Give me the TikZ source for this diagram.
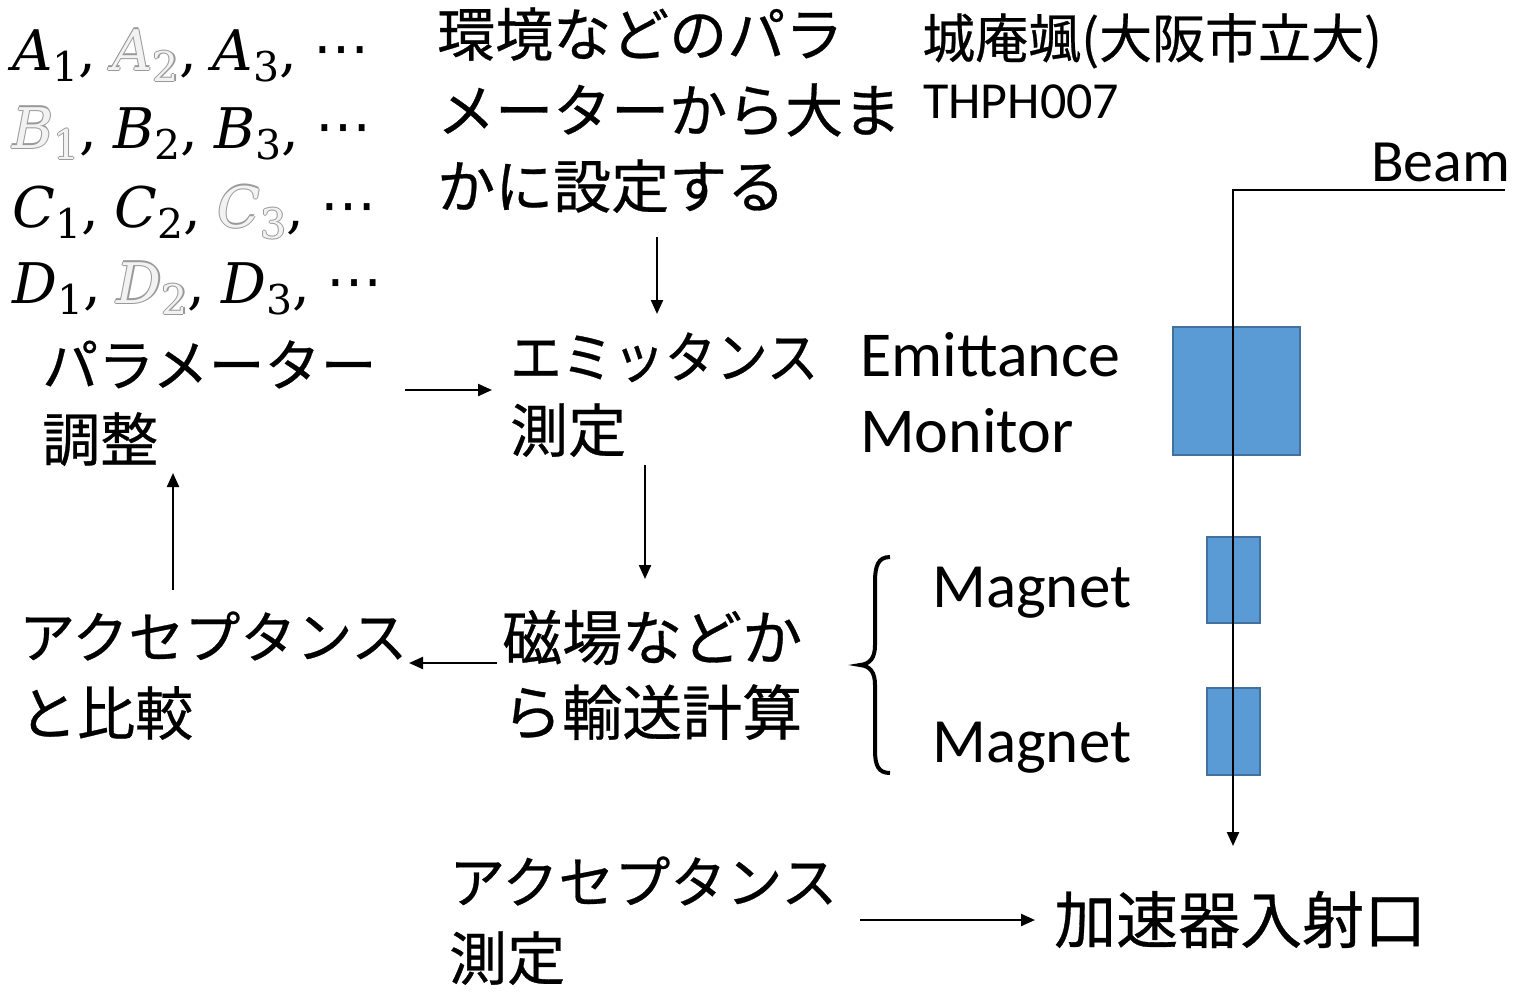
\documentclass[tikz,border=0pt]{standalone}
\usepackage{fontspec}
\usepackage{graphicx}
\setmainfont{Carlito}
\newfontfamily\jpf{Noto Sans CJK JP}[FakeBold=0.5]
\newfontfamily\mfnt{DejaVu Serif}
\newfontfamily\djf{DejaVu Sans}
\usetikzlibrary{arrows.meta}
\newcommand\fsz[1]{\fontsize{#1}{#1}\selectfont}
\newcommand\mv[2]{{\itshape #1}\raisebox{-0.2em}{\fsz{41}#2}}
\newcommand\ghx[2]{\mv{#1}{#2}}
\newcommand\gh[2]{%
 \rlap{\color{black!40}\hspace{-1.2pt}\ghx{#1}{#2}}%
 \rlap{\color{black!40}\hspace{1.2pt}\ghx{#1}{#2}}%
 \rlap{\color{black!40}\raisebox{1.2pt}{\ghx{#1}{#2}}}%
 \rlap{\color{black!40}\raisebox{-1.2pt}{\ghx{#1}{#2}}}%
 {\color{black!5}\ghx{#1}{#2}}}
\newcommand\sep{,\hspace{16pt}}
\newcommand\dts{{\djf\fsz{56}\raisebox{0.05em}{⋯}}}
\definecolor{boxfill}{HTML}{5B9BD5}
\definecolor{boxline}{HTML}{41719C}
\tikzset{
  txt/.style={inner sep=0pt, anchor=base west},
  jp/.style={txt, font=\jpf},
  lat/.style={txt},
  mrow/.style={txt, font=\mfnt\fsz{56}},
  arr/.style={line width=2.2pt, -{Triangle[length=14pt,width=12pt]}},
  blk/.style={draw=boxline, fill=boxfill, line width=2.5pt, inner sep=0pt},
}
\begin{document}
\begin{tikzpicture}[x=1pt,y=-1pt]
\useasboundingbox (0,0) rectangle (1533,991);
% parameter rows
\node[mrow] (ra) at (12,70) {\mv{A}{1}\sep\gh{A}{2}\sep\mv{A}{3}\sep\dts};
\node[mrow] (rb) at (12,148) {\gh{B}{1}\sep\mv{B}{2}\sep\mv{B}{3}\sep\dts};
\node[mrow] (rc) at (12,227) {\mv{C}{1}\sep\mv{C}{2}\sep\gh{C}{3}\sep\dts};
\node[mrow] (rd) at (12,303) {\mv{D}{1}\sep\gh{D}{2}\sep\mv{D}{3}\sep\dts};
% environment text
\node[jp, font=\jpf\fsz{58}] (env1) at (437,56) {環境などのパラ};
\node[jp, font=\jpf\fsz{58}] (env2) at (437,132) {メーターから大ま};
\node[jp, font=\jpf\fsz{58}] (env3) at (437,208) {かに設定する};
% author
\node[jp, font=\jpf\fsz{53}] (auth) at (922,58) {城庵颯(大阪市立大)};
\node[lat, font=\fsz{52}] (pid) at (923,118) {THPH007};
\node[lat, font=\fsz{60}] (beam) at (1371,181) {Beam};
% flow texts
\node[jp, font=\jpf\fsz{56}] (par1) at (42,386) {パラメーター};
\node[jp, font=\jpf\fsz{58}] (par2) at (42,461) {調整};
\node[jp, font=\jpf\fsz{56}] (emi1) at (510,378) {\scalebox{0.92}[1]{エミッタンス}};
\node[jp, font=\jpf\fsz{58}] (emi2) at (510,452) {測定};
\node[lat, font=\fsz{64}] (em1) at (860,376) {Emittance};
\node[lat, font=\fsz{64}] (em2) at (860,452) {Monitor};
\node[lat, font=\fsz{63}] (mg1) at (932,607) {Magnet};
\node[lat, font=\fsz{63}] (mg2) at (932,762) {Magnet};
\node[jp, font=\jpf\fsz{56}] (acc1) at (19,658) {アクセプタンス};
\node[jp, font=\jpf\fsz{58}] (acc2) at (19,735) {と比較};
\node[jp, font=\jpf\fsz{60}] (mag1) at (502,660) {磁場などか};
\node[jp, font=\jpf\fsz{60}] (mag2) at (502,735) {ら輸送計算};
\node[jp, font=\jpf\fsz{56}] (am1) at (449,903) {アクセプタンス};
\node[jp, font=\jpf\fsz{58}] (am2) at (449,980) {測定};
\node[jp, font=\jpf\fsz{62}] (inj) at (1054,943) {加速器入射口};
% brace
\draw[line width=4pt] (890,557) .. controls (878,557) and (875,566) .. (875,582) -- (875,645) .. controls (875,658) and (870,664) .. (860,665) .. controls (870,666) and (875,672) .. (875,685) -- (875,750) .. controls (875,765) and (878,773) .. (890,773);
% beam line elements
\node[blk, minimum width=127pt, minimum height=128pt] (emon) at (1236.5,391) {};
\node[blk, minimum width=53pt, minimum height=86pt] (q1) at (1233.5,580) {};
\node[blk, minimum width=53pt, minimum height=87pt] (q2) at (1233.5,731.5) {};
\coordinate (bs) at (1505,190);
\coordinate (bc) at (1233,190);
\coordinate (be) at (1233,846);
\draw[arr] (bs) -- (bc) -- (be);
% flow arrows
\coordinate (a1s) at (657,237); \coordinate (a1e) at (657,314);
\coordinate (a2s) at (405,390); \coordinate (a2e) at (492,390);
\coordinate (a3s) at (645,465); \coordinate (a3e) at (645,579);
\coordinate (a4s) at (497,663); \coordinate (a4e) at (409,663);
\coordinate (a5s) at (173,590); \coordinate (a5e) at (173,473);
\coordinate (a6s) at (860,920); \coordinate (a6e) at (1035,920);
\draw[arr] (a1s) -- (a1e);
\draw[arr] (a2s) -- (a2e);
\draw[arr] (a3s) -- (a3e);
\draw[arr] (a4s) -- (a4e);
\draw[arr] (a5s) -- (a5e);
\draw[arr] (a6s) -- (a6e);
\end{tikzpicture}
\end{document}
